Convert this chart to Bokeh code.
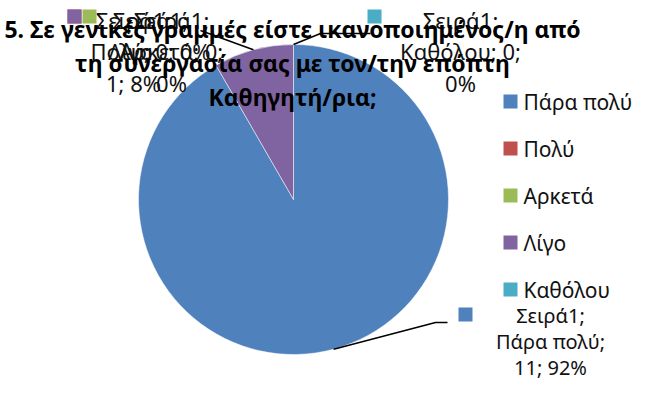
import math
from bokeh.plotting import figure
from bokeh.models import Range1d, ColumnDataSource
from bokeh.core.properties import value
from bokeh.embed import file_html
from bokeh.resources import INLINE

# ---- data ----
series_name = "Σειρά1"
categories = ["Πάρα πολύ", "Πολύ", "Αρκετά", "Λίγο", "Καθόλου"]
counts = [11, 0, 0, 1, 0]
colors = ["#4F81BD", "#C0504D", "#9BBB59", "#8064A2", "#4BACC6"]
title_lines = ["5. Σε γενικές γραμμές είστε ικανοποιημένος/η από",
               "τη συνεργασία σας με τον/την επόπτη",
               "Καθηγητή/ρια;"]

W, H = 634, 384
FONT = "Noto Sans"

def Y(y):  # picture pixel row -> data y
    return 400 - y

p = figure(width=W, height=H, output_backend="svg", toolbar_location=None,
           x_range=Range1d(0, W), y_range=Range1d(400 - H, 400),
           min_border=0)
p.axis.visible = False
p.grid.visible = False
p.outline_line_color = None
p.background_fill_color = "white"
p.border_fill_color = "white"

# ---- pie ----
cx, cy, r = 293, Y(199), 155
total = sum(counts)
starts, ends, mids = [], [], []
acc = 0.0
for c in counts:
    a0 = acc / total * 2 * math.pi
    acc += c
    a1 = acc / total * 2 * math.pi
    starts.append(math.pi / 2 - a0)
    ends.append(math.pi / 2 - a1)
    mids.append(math.pi / 2 - (a0 + a1) / 2)

idx = [i for i, c in enumerate(counts) if c > 0]
src = ColumnDataSource(dict(
    x=[cx] * len(idx), y=[cy] * len(idx),
    s=[starts[i] for i in idx], e=[ends[i] for i in idx],
    col=[colors[i] for i in idx]))
p.wedge(x="x", y="y", radius=r, start_angle="s", end_angle="e",
        direction="clock", fill_color="col", line_color="white",
        line_width=0.5, source=src)

# ---- leader lines ----
def edge(i):
    return cx + r * math.cos(mids[i]), cy + r * math.sin(mids[i])

ex, ey = edge(0)
p.line([ex, 435, 447], [ey, Y(322), Y(322)], line_color="black", line_width=1.5)
ex, ey = edge(3)
p.line([ex, 200], [ey, Y(30)], line_color="black", line_width=1.5)
ex, ey = edge(4)
p.line([ex, 320, 370], [ey, Y(33), Y(33)], line_color="black", line_width=1.5)

# ---- data labels (overlapping, as in reference) ----
def pct(i):
    return f"{round(100 * counts[i] / total)}%"

label_specs = [
    # (category index, square x, square y, text center x, first line y, gap, size, lines)
    (1, 74, 16, 150, 19, 31.5, 22, [f"{series_name};", f"{categories[1]}; {counts[1]}; {pct(1)}"]),
    (2, 89, 16, 171, 19, 31.5, 22, [f"{series_name};", f"{categories[2]}; {counts[2]};", pct(2)]),
    (3, 74, 16, 133, 19, 31.5, 22, [f"{series_name};", f"{categories[3]};", f"{counts[3]}; {pct(3)}"]),
    (4, 374, 16, 460, 19, 31.5, 22, [f"{series_name};", f"{categories[4]}; {counts[4]};", pct(4)]),
    (0, 465, 314, 550, 315, 26, 20, [f"{series_name};", f"{categories[0]};", f"{counts[0]}; {pct(0)}"]),
]
for i, sx, sy, tx, fy, gap, size, lines in label_specs:
    p.rect(x=[sx], y=[Y(sy)], width=14, height=14, fill_color=colors[i], line_color=None)
    ys = [Y(fy + k * gap) for k in range(len(lines))]
    p.text(x=[tx] * len(lines), y=ys, text=lines, text_font=value(FONT),
           text_font_size=f"{size}px",
           text_align="center", text_baseline="middle", text_color="#111111")

# ---- title ----
p.text(x=[292] * 3, y=[Y(28), Y(62), Y(96)], text=title_lines,
       text_font=value(FONT), text_font_size="23px", text_font_style="bold",
       text_align="center", text_baseline="middle", text_color="black")

# ---- legend ----
leg_y0, leg_dy = 101, 47
ly = [Y(leg_y0 + k * leg_dy) for k in range(len(categories))]
p.rect(x=[510] * len(categories), y=ly, width=14, height=14,
       fill_color=colors, line_color=None)
p.text(x=[523] * len(categories), y=ly, text=categories, text_font=value(FONT),
       text_font_size="21px", text_align="left", text_baseline="middle",
       text_color="#111111")

open("out.html", "w").write(file_html(p, INLINE))
